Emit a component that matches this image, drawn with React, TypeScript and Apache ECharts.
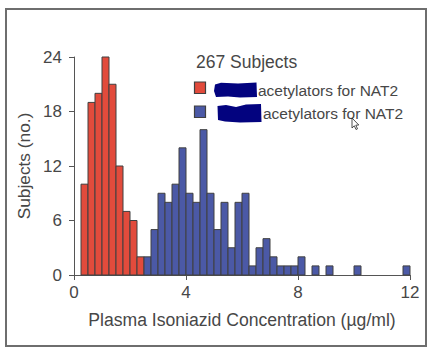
import React, { useEffect, useRef } from "react";
import * as echarts from "echarts";

// Histogram bins (µg/ml), width 0.25
const BIN_WIDTH = 0.25;
const SLOW_FIRST_BIN = 0.25;
const RAPID_FIRST_BIN = 2.5;
const slowCounts = [10, 19, 20, 24, 21, 12, 7, 6, 2];
const rapidCounts = [
  2, 5, 9, 8, 10, 14, 9, 8, 16, 9, 5, 8, 3, 8, 9, 1, 3, 4, 2, 1, 1, 1, 2, 0, 1, 0, 1, 0, 0, 0, 1, 0, 0, 0,
  0, 0, 0, 1,
];
const xTicks = [0, 4, 8, 12];
const yTicks = [0, 6, 12, 18, 24];
const legendTitle = "267 Subjects";
const legendText = "acetylators for NAT2";
const xName = "Plasma Isoniazid Concentration (µg/ml)";
const yName = "Subjects (no.)";

const RED = "#E24B3C";
const BLUE = "#4B59A6";
const EDGE = "#404040";
const TEXT = "#474747";
const FONT = "'Liberation Sans', Arial, Helvetica, sans-serif";

function toBins(first: number, counts: number[]) {
  const out: number[][] = [];
  counts.forEach((c, i) => {
    const s = first + i * BIN_WIDTH;
    if (c > 0) out.push([s, s + BIN_WIDTH, c]);
  });
  return out;
}

function histSeries(name: string, data: number[][], color: string) {
  return {
    type: "custom",
    name,
    data,
    encode: { x: [0, 1], y: 2 },
    renderItem: (params: any, api: any) => {
      const p0 = api.coord([api.value(0), api.value(2)]);
      const p1 = api.coord([api.value(1), 0]);
      return {
        type: "rect",
        shape: { x: p0[0], y: p0[1], width: p1[0] - p0[0], height: p1[1] - p0[1] },
        style: { fill: color, stroke: EDGE, lineWidth: 1 },
      };
    },
  };
}

export default function App() {
  const ref = useRef<HTMLDivElement>(null);
  useEffect(() => {
    if (!ref.current) return;
    document.body.style.margin = "0";
    const chart = echarts.init(ref.current, null, { renderer: "svg" });
    const axisLabel = { color: TEXT, fontSize: 17, fontFamily: FONT };
    chart.setOption({
      animation: false,
      backgroundColor: "#ffffff",
      grid: { left: 74, right: 30, top: 57, bottom: 75 },
      xAxis: {
        type: "value",
        min: xTicks[0],
        max: xTicks[xTicks.length - 1],
        interval: xTicks[1] - xTicks[0],
        name: xName,
        nameLocation: "middle",
        nameGap: 36,
        nameTextStyle: { color: TEXT, fontSize: 17.6, fontFamily: FONT },
        axisLine: { show: true, lineStyle: { color: "#555", width: 1 } },
        axisTick: { show: true, length: 5, lineStyle: { color: "#555" } },
        axisLabel: { ...axisLabel, margin: 9 },
        splitLine: { show: false },
      },
      yAxis: {
        type: "value",
        min: yTicks[0],
        max: yTicks[yTicks.length - 1],
        interval: yTicks[1] - yTicks[0],
        name: yName,
        nameLocation: "middle",
        nameGap: 35,
        nameTextStyle: { color: TEXT, fontSize: 17.3, fontFamily: FONT },
        axisLine: { show: true, lineStyle: { color: "#555", width: 1 } },
        axisTick: { show: true, length: 5, lineStyle: { color: "#555" } },
        axisLabel: { ...axisLabel, margin: 12 },
        splitLine: { show: false },
      },
      series: [
        histSeries("slow", toBins(SLOW_FIRST_BIN, slowCounts), RED),
        histSeries("rapid", toBins(RAPID_FIRST_BIN, rapidCounts), BLUE),
      ],
      graphic: [
        {
          type: "rect",
          shape: { x: 6, y: 9, width: 420, height: 337 },
          style: { fill: "none", stroke: "#6e6e6e", lineWidth: 2 },
          silent: true,
        },
        {
          type: "text",
          x: 196,
          y: 62,
          style: { text: legendTitle, font: `17.5px ${FONT}`, fill: TEXT, verticalAlign: "middle" },
        },
        {
          type: "rect",
          shape: { x: 194.5, y: 82, width: 11, height: 11.5 },
          style: { fill: RED, stroke: EDGE, lineWidth: 1.2 },
        },
        {
          type: "rect",
          shape: { x: 194.5, y: 106, width: 11, height: 11.5 },
          style: { fill: BLUE, stroke: EDGE, lineWidth: 1.2 },
        },
        {
          type: "text",
          x: 258,
          y: 90,
          style: { text: legendText, font: `15.5px ${FONT}`, fill: TEXT, verticalAlign: "middle" },
        },
        {
          type: "text",
          x: 263,
          y: 113,
          style: { text: legendText, font: `15.5px ${FONT}`, fill: TEXT, verticalAlign: "middle" },
        },
        {
          type: "polygon",
          shape: {
            points: [
              [215, 84.5],
              [221, 82.8],
              [238, 83.5],
              [256.5, 82.5],
              [257, 97],
              [240, 97.5],
              [228, 96.5],
              [216, 97],
              [214, 91],
            ],
          },
          style: { fill: "#03037f" },
        },
        {
          type: "polygon",
          shape: {
            points: [
              [217.5, 106],
              [226, 105],
              [236, 107],
              [246, 104.5],
              [261, 104],
              [261.5, 122],
              [240, 122.5],
              [225, 121.5],
              [218, 120],
            ],
          },
          style: { fill: "#03037f" },
        },
        {
          type: "polygon",
          shape: {
            points: [
              [352, 118],
              [352, 128],
              [354.3, 125.8],
              [356, 129.5],
              [357.5, 128.8],
              [355.8, 125.2],
              [358.8, 125],
            ],
          },
          style: { fill: "#ffffff", stroke: "#222", lineWidth: 0.8 },
        },
      ],
    });
    return () => chart.dispose();
  }, []);
  return <div ref={ref} style={{ width: 440, height: 350 }} />;
}
